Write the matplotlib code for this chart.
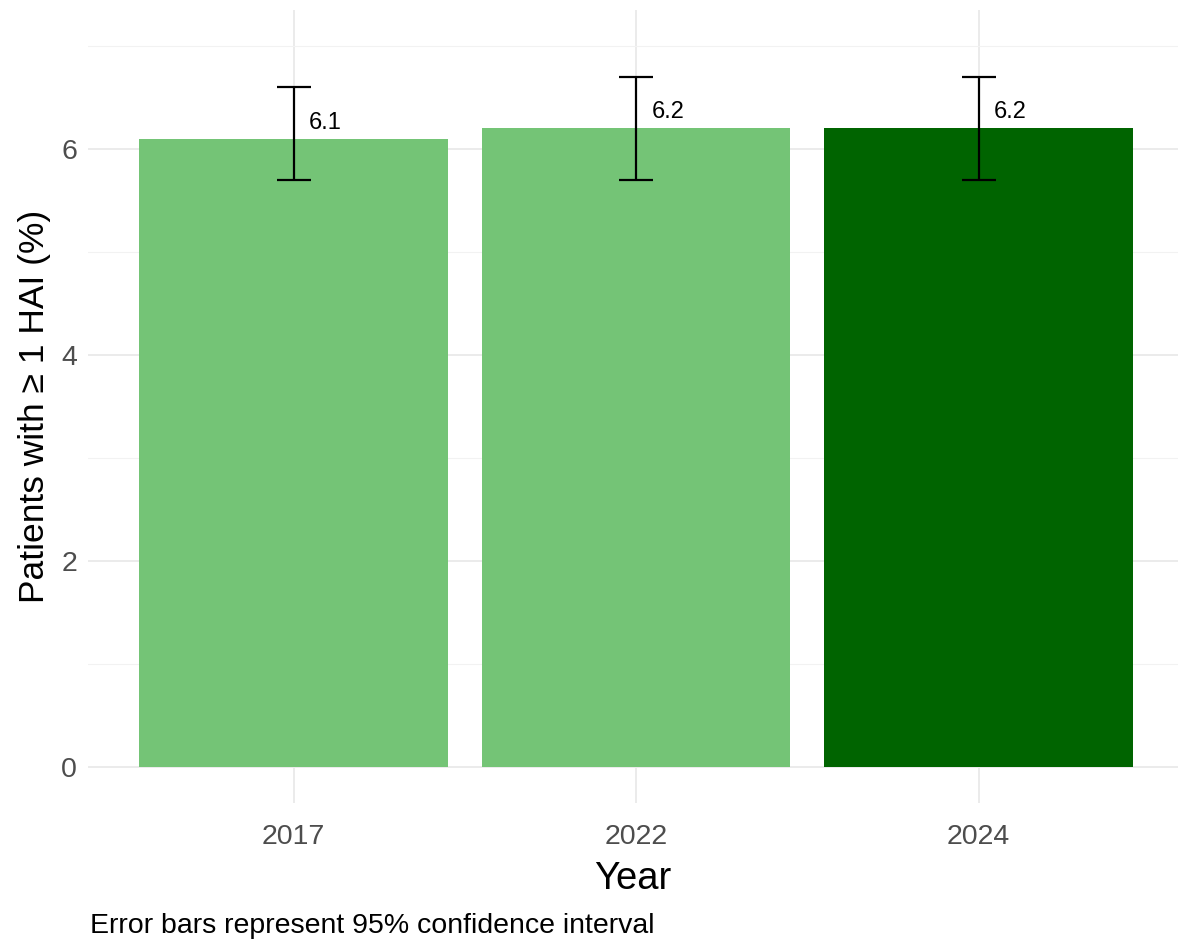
import matplotlib
matplotlib.use("Agg")
import matplotlib.pyplot as plt
import numpy as np

years = ["2017", "2022", "2024"]
values = [6.1, 6.2, 6.2]
ci_low = [5.7, 5.7, 5.7]
ci_high = [6.6, 6.7, 6.7]
bar_colors = ["#74C476", "#74C476", "#006400"]
value_labels = ["6.1", "6.2", "6.2"]

plt.rcParams['font.family'] = ['Liberation Sans', 'DejaVu Sans']

W, H = 1178, 944
fig = plt.figure(figsize=(W / 100, H / 100), dpi=100)
ax = fig.add_axes([88 / W, 1 - 803 / H, (1178 - 88) / W, (803 - 10) / H])

x = np.arange(len(years))
ax.bar(x, values, width=0.9, color=bar_colors, zorder=2)
yerr = [np.array(values) - np.array(ci_low), np.array(ci_high) - np.array(values)]
ax.errorbar(x, values, yerr=yerr, fmt='none', ecolor='black', elinewidth=1.6,
            capsize=12.5, capthick=1.6, zorder=3)
for xi, v, lab in zip(x, values, value_labels):
    ax.text(xi + 0.045, v + 0.05, lab, ha='left', va='bottom', fontsize=17, color='black', zorder=4)

ax.set_xlim(-0.6, -0.6 + (1178 - 88) / 342.5)
ax.set_ylim(-0.35, 7.35)
ax.set_xticks(x)
ax.set_xticklabels(years)
ax.set_yticks([0, 2, 4, 6])
ax.set_yticks([1, 3, 5, 7], minor=True)
ax.grid(which='major', color='#EBEBEB', linewidth=1.4, zorder=0)
ax.grid(which='minor', axis='y', color='#F2F2F2', linewidth=0.8, zorder=0)
ax.set_axisbelow(True)
for s in ax.spines.values():
    s.set_visible(False)
ax.tick_params(which='both', length=0, labelsize=20.5, labelcolor='#4D4D4D', pad=8)
ax.tick_params(axis='x', pad=15)
ax.set_xlabel("Year", fontsize=27.5, labelpad=8)
ax.set_ylabel("Patients with \u2265 1 HAI (%)", fontsize=25.5, labelpad=7)
fig.text(90 / W, 1 - 926 / H, "Error bars represent 95% confidence interval",
         ha='left', va='center', fontsize=20.5, color='black')

fig.savefig("out.png", dpi=100)
